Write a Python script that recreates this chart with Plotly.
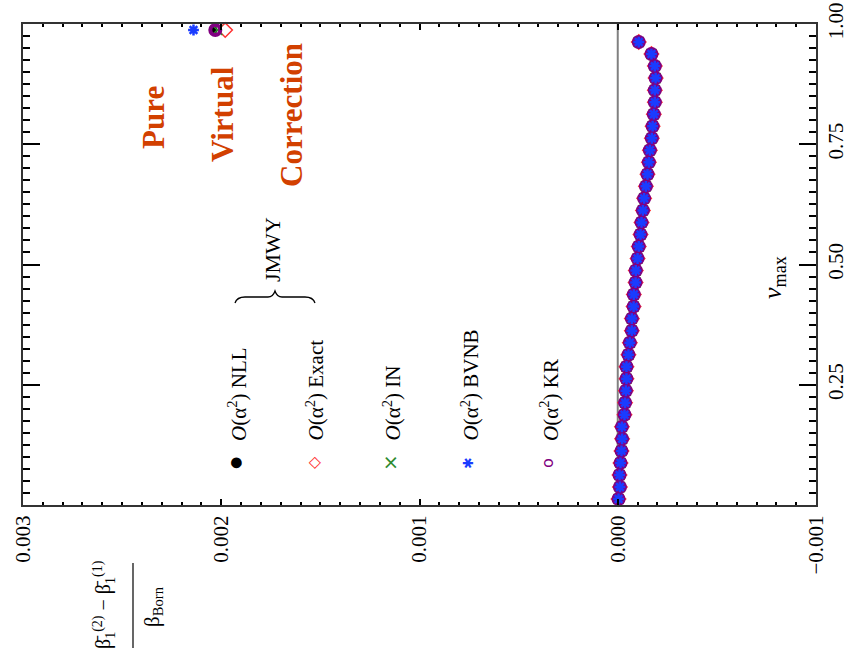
import plotly.graph_objects as go

# ---------------- data ----------------
v_max = [0.0125, 0.0375, 0.0625, 0.0875, 0.1125, 0.1375, 0.1625, 0.1875, 0.2125, 0.2375,
         0.2625, 0.2875, 0.3125, 0.3375, 0.3625, 0.3875, 0.4125, 0.4375, 0.4625, 0.4875,
         0.5125, 0.5375, 0.5625, 0.5875, 0.6125, 0.6375, 0.6625, 0.6875, 0.7125, 0.7375,
         0.7625, 0.7875, 0.8125, 0.8375, 0.8625, 0.8875, 0.9125, 0.9375, 0.9625, 0.9875]

delta_common = [-0.000004, -0.000011, -0.000009, -0.000014, -0.000019, -0.000022, -0.000021,
                -0.000034, -0.000037, -0.000041, -0.000044, -0.000044, -0.000054, -0.000061,
                -0.000071, -0.000071, -0.000080, -0.000081, -0.000090, -0.000091, -0.000100,
                -0.000106, -0.000115, -0.000120, -0.000127, -0.000133, -0.000142, -0.000150,
                -0.000157, -0.000162, -0.000172, -0.000176, -0.000182, -0.000187, -0.000187,
                -0.000191, -0.000187, -0.000170, -0.000106]

nll = delta_common + [0.00204]
exact = delta_common + [0.00198]
in_ = delta_common + [0.00202]
bvnb = delta_common + [0.00214]
kr = delta_common + [0.00203]

legend_labels = ["NLL", "Exact", "IN", "BVNB", "KR"]

# ---------------- layout helpers ----------------
W, H = 864, 657
OFF = 0  # page body margin is removed by the post script below
# plot area in screenshot pixels
L, R, T, B = 23, 816, 24, 505
SERIF = "Liberation Serif, Times New Roman, serif"


def px(x):
    return (x - L) / (R - L)


def py(y):
    return (B - y) / (B - T)


fig = go.Figure()

series = [
    (nll, dict(symbol="circle", size=8, color="black")),
    (exact, dict(symbol="diamond-open", size=11, color="#ff3030", line=dict(width=1.5))),
    (in_, dict(symbol="x-thin-open", size=10, color="#2e8b2e", line=dict(width=1.5, color="#2e8b2e"))),
    (kr, dict(symbol="circle-open", size=10, color="#800080", line=dict(width=4))),
    (bvnb, dict(symbol="asterisk-open", size=9, color="#1a3cff", line=dict(width=2.5, color="#1a3cff"))),
]
for vals, mk in series:
    fig.add_trace(go.Scatter(x=vals, y=v_max, mode="markers", marker=mk,
                             showlegend=False, hoverinfo="skip", cliponaxis=False))

# zero line
fig.add_shape(type="line", xref="x", yref="paper", x0=0, x1=0, y0=0, y1=1,
              line=dict(color="#808080", width=2), layer="below")

ann = []


def add_text(x, y, text, size, color="black", xanchor="center", yanchor="middle", family=SERIF):
    ann.append(dict(x=px(x), y=py(y), xref="paper", yref="paper", text=text,
                    showarrow=False, textangle=-90, xanchor=xanchor, yanchor=yanchor,
                    font=dict(family=family, size=size, color=color)))


# red title
red = "#d24000"
add_text(153, 118, "<b>Pure</b>", 31, red)
add_text(222, 114, "<b>Virtual</b>", 31, red)
add_text(292, 115, "<b>Correction</b>", 31, red)

# custom legend
sym_specs = [("●", "black", 14, 235), ("◇", "#ff3030", 16, 313), ("×", "#2e8b2e", 20, 390),
             ("✱", "#1a3cff", 14, 468), ("o", "#800080", 16, 547)]
for (sym, col, sz, xx), lab in zip(sym_specs, legend_labels):
    add_text(xx, 463, sym, sz, col, family="DejaVu Sans")
    add_text(xx + 2, 443, "<i>O</i>(α<sup>2</sup>) " + lab, 21, yanchor="bottom")

# JMWY brace
add_text(272, 250, "JMWY", 22)
brace = ("M {a},{b} Q {c},{d} {e},{d} L {f},{d} Q {g},{d} {h},{i} Q {j},{d} {k},{d} "
         "L {l},{d} Q {m},{d} {n},{b}").format(
    a=px(235), b=py(303), c=px(237), d=py(297), e=px(245), f=px(268), g=px(273),
    h=px(275), i=py(291), j=px(277), k=px(282), l=px(305), m=px(313), n=px(315))
fig.add_shape(type="path", xref="paper", yref="paper", path=brace,
              line=dict(color="black", width=1.3))

# axis titles (rotated)
add_text(774, 278, "<i>v</i><sub>max</sub>", 26)
add_text(104, 605, "β̄<sub>1</sub><sup>(2)</sup> − β̄<sub>1</sub><sup>(1)</sup>", 20)
fig.add_shape(type="line", xref="paper", yref="paper", x0=px(133), x1=px(133),
              y0=py(563), y1=py(648), line=dict(color="black", width=1.2))
add_text(153, 607, "β<sub>Born</sub>", 21)

axis_col = "#333333"
fig.update_layout(
    width=W, height=H,
    margin=dict(l=L - OFF, r=W - (R - OFF), t=T - OFF, b=H - (B - OFF), pad=0,
                autoexpand=False),
    paper_bgcolor="white", plot_bgcolor="white",
    annotations=ann,
    xaxis=dict(range=[0.003, -0.001], tickmode="linear", tick0=0, dtick=0.001,
               tickformat=".3f", tickangle=-90, ticks="inside", ticklen=6, tickwidth=1.5,
               tickcolor="black", showline=True, linecolor=axis_col, linewidth=2,
               mirror="allticks", showgrid=False, zeroline=False, automargin=False,
               ticklabeloverflow="allow",
               minor=dict(dtick=0.0001, tick0=0, ticklen=3, tickwidth=1.5, ticks="inside",
                          tickcolor="black", showgrid=False),
               tickfont=dict(family=SERIF, size=21, color="black")),
    yaxis=dict(range=[0, 1], side="right", tickmode="linear", tick0=0, dtick=0.25,
               tickformat=".2f", labelalias={"0.00": " "}, tickangle=-90,
               ticks="inside", ticklen=17, tickwidth=2, tickcolor="black",
               showline=True, linecolor=axis_col, linewidth=2, mirror="allticks",
               showgrid=False, zeroline=False, automargin=False,
               ticklabeloverflow="allow",
               minor=dict(dtick=0.025, tick0=0, ticklen=7, tickwidth=2, ticks="inside",
                          tickcolor="black", showgrid=False),
               tickfont=dict(family=SERIF, size=21, color="black")),
)

fig.write_html("out.html", config={"displayModeBar": False},
               post_script="document.body.style.margin='0px';document.body.style.overflow='hidden';")
